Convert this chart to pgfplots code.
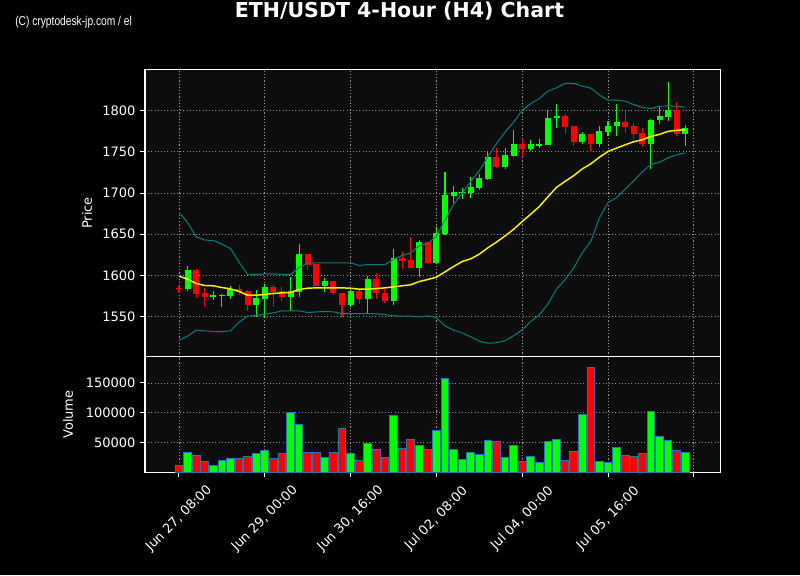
\documentclass[border=0pt]{standalone}
\usepackage{pgfplots}
\pgfplotsset{compat=1.18}
\usepackage{pgfplotstable}
\usepackage{fontspec}
\setmainfont{DejaVu Sans}
\newfontfamily\wmfont[FakeStretch=0.8]{Liberation Sans}

\definecolor{bullg}{RGB}{0,255,0}
\definecolor{bearr}{RGB}{255,0,0}
\definecolor{panel}{RGB}{13,13,13}
\definecolor{band}{RGB}{0,128,128}
\definecolor{gridc}{RGB}{150,150,150}
\definecolor{edge}{RGB}{31,119,180}

% 4h candles, i=0 is Jun 27 08:00; g=1 up candle, g=0 down candle
\pgfplotstableread{
i o h l c v g
0 1585 1587 1579 1584 11700 0
1 1583.4 1611.3 1581.4 1606.5 33300 1
2 1606.5 1608 1573.3 1577.8 28300 0
3 1578.6 1585 1562.4 1574.1 18300 0
4 1573.7 1580.6 1569.7 1576.1 11700 1
5 1575.5 1577 1562 1576.5 20000 1
6 1575.3 1586.7 1571.7 1584.2 23300 1
7 1583.4 1589 1576 1579.4 23300 0
8 1581 1582 1556.7 1564 26700 0
9 1564 1583 1549.4 1572.5 31700 1
10 1571.3 1590 1549 1585.8 36700 1
11 1585.8 1589 1562 1579.8 23300 0
12 1581 1586.2 1569.3 1573.7 31700 0
13 1573.7 1597.6 1557.1 1581 100000 1
14 1580.2 1637.6 1574.1 1625.9 80000 1
15 1625.9 1626.5 1606.5 1612.5 33300 0
16 1613.8 1614.2 1587 1587.5 33300 0
17 1587.5 1596.4 1579.4 1593.1 25000 1
18 1593.1 1593.5 1576.1 1578.2 33300 0
19 1578.6 1579.2 1549.8 1564 73300 0
20 1564 1582 1562 1581 31700 1
21 1581 1582 1566 1571.3 20000 0
22 1571.3 1599.2 1553.1 1595.6 48300 1
23 1595.6 1603.2 1571.3 1578.2 38300 0
24 1578.6 1583.8 1566.8 1569.3 25000 0
25 1569.3 1631.6 1564.8 1621 95000 1
26 1621 1628.7 1607.3 1617.4 40000 0
27 1618.6 1646.1 1608.5 1608.9 55000 0
28 1608.9 1642.9 1597.6 1640.5 45000 1
29 1640.5 1641 1614 1615 38300 0
30 1615 1659 1614 1651.4 70000 1
31 1649.8 1725 1649 1697.5 158300 1
32 1696.7 1708 1687.4 1701.1 38300 1
33 1699.5 1706.4 1692.2 1701.1 21700 1
34 1700.3 1718.9 1694.2 1707.2 33300 1
35 1706.4 1722.5 1703.2 1718.1 30000 1
36 1717.3 1750 1715.7 1743.6 53300 1
37 1743.6 1754.1 1729.9 1731.9 51700 0
38 1731.9 1754.1 1728.6 1746 25000 1
39 1745.2 1776 1744 1759.4 45000 1
40 1758.9 1765 1743.5 1753.3 18300 0
41 1753.3 1764.6 1750.8 1758.9 26700 1
42 1757.3 1765.9 1754.9 1758.9 16700 1
43 1758.1 1800.4 1758 1791.5 51700 1
44 1790.7 1808.5 1779.3 1793.1 55000 1
45 1793.1 1796.3 1772 1780.1 20000 0
46 1780.9 1781.2 1757.3 1762.2 35000 0
47 1762.2 1773.6 1759.8 1771.1 96700 1
48 1771.1 1771.5 1749.2 1759.3 176700 0
49 1759.3 1781.7 1756.1 1774.8 18300 1
50 1774 1787 1769.5 1781.7 16700 1
51 1781.3 1808.5 1769.5 1785.8 41700 1
52 1785.8 1800 1772.8 1780.1 28300 0
53 1780.9 1785.4 1765 1772 26700 0
54 1772.4 1778.9 1755.7 1759.8 31700 0
55 1759.3 1789.5 1729.3 1789 101700 1
56 1788.2 1804.5 1783.3 1793.1 60000 1
57 1792.3 1834.1 1787.8 1800.4 53300 1
58 1800.4 1810.6 1769.1 1772 36700 0
59 1771.5 1782.9 1757.3 1778.5 33300 1
}\candles

% bollinger bands and 20-period moving average
\pgfplotstableread{
i up ma lo
0 1676.5 1599.2 1521.5
1 1664.3 1595.6 1526.4
2 1646.9 1590.3 1533.7
3 1642.9 1587.9 1532.9
4 1642.5 1587.5 1532
5 1638 1585.4 1532
6 1632.8 1583.8 1532.9
7 1616.2 1580.6 1543.4
8 1601.2 1576.1 1550.7
9 1601.2 1576.1 1551.5
10 1602 1577 1553.1
11 1602 1578.2 1554.7
12 1601.2 1579 1557.1
13 1601.2 1579.4 1557.1
14 1609.7 1583 1557.1
15 1614.6 1584.6 1555.1
16 1615.4 1585 1555.9
17 1615.4 1585 1556.3
18 1615.4 1585 1555.9
19 1615.4 1585 1553.9
20 1615.4 1584.6 1553.9
21 1612.1 1583.4 1553.9
22 1613.3 1583.4 1553.9
23 1613.3 1584.2 1553.5
24 1613.3 1585 1552.7
25 1619.4 1586.2 1551.1
26 1624.3 1587.5 1550.7
27 1627.1 1588.7 1550.7
28 1636.4 1592.7 1549.8
29 1638.8 1595.1 1551.1
30 1647.7 1598 1549
31 1667 1604.4 1538.9
32 1686 1610.9 1533.7
33 1700 1617 1530.4
34 1714 1620.2 1525.6
35 1727 1625.9 1520.3
36 1744 1633.6 1517.9
37 1760 1640.5 1518.5
38 1774 1648 1521
39 1786 1656 1527
40 1800.4 1665.5 1534.2
41 1808.5 1674.4 1544.3
42 1814.6 1683.7 1552.4
43 1823.6 1695.5 1565.5
44 1827.6 1706.9 1583.7
45 1832.9 1714.2 1595
46 1832.9 1721.1 1609.2
47 1829.7 1729.3 1627.5
48 1827.2 1735.4 1641.6
49 1818.7 1743.5 1670.1
50 1812.6 1750.4 1688.4
51 1812.6 1754.5 1694.5
52 1811.4 1758.5 1704.7
53 1807.3 1762.2 1714.8
54 1803.7 1764.6 1725.8
55 1802.4 1768.7 1734.6
56 1805.3 1771.1 1737.4
57 1805.7 1774.8 1742.7
58 1805.3 1776 1746.3
59 1804.1 1776.8 1748.8
}\bands

\pgfplotsset{chart/.style={
  scale only axis, width=431.25pt, xmin=-3.96, xmax=63.05,
  axis background/.style={fill=panel},
  axis line style={white, line width=0.75pt},
  tick style={white, line width=0.75pt}, major tick length=3.6pt,
  tick align=outside, tick pos=left,
  grid=major, major grid style={gridc, line width=0.6pt, dash pattern=on 0.8pt off 1.6pt},
  xtick={0,10,...,60},
  ticklabel style={font=\fontsize{9.75}{11}\selectfont, text=white},
  /pgf/number format/assume math mode=true,
  /pgf/number format/fixed,
  /pgf/number format/1000 sep={},
  scaled y ticks=false,
  yticklabel style={/pgf/number format/fixed, /pgf/number format/precision=0},
  label style={font=\fontsize{9.75}{11}\selectfont, text=white},
}}
% candle pieces: wick or body drawn as an upward error bar
\pgfplotsset{candle/.style n args={2}{draw=none, mark=none, forget plot,
  error bars/.cd, y dir=plus, y explicit, error mark=none,
  error bar style={draw=#1, solid, line width=#2}}}

\begin{document}
\begin{tikzpicture}
\useasboundingbox (0,0) rectangle (600pt,431.25pt);
\fill[black] (0,0) rectangle (600pt,431.25pt);

\node[font=\bfseries\fontsize{15.4}{18}\selectfont, text=white] at (299.6pt,423pt) {ETH/USDT 4-Hour (H4) Chart};
\node[font=\wmfont\fontsize{9.6}{11}\selectfont, text=white, anchor=west, inner sep=0pt] at (11.25pt,414.5pt) {(C) cryptodesk-jp.com / el};

% price panel
\begin{axis}[chart, at={(108.75pt,163.7pt)}, anchor=south west, height=215.55pt,
  ymin=1501.5, ymax=1850, ytick={1550,1600,...,1800},
  xticklabels={}, x tick style={draw=none},
  ylabel={Price}, ylabel style={at={(axis description cs:-0.1009,0.5)}, anchor=center}]
% wicks
\addplot[restrict expr to domain={\thisrow{g}}{0.5:1.5}, candle={bullg}{0.8pt}]
  table[x=i, y=l, y error plus expr=\thisrow{h}-\thisrow{l}]{\candles};
\addplot[restrict expr to domain={\thisrow{g}}{-0.5:0.5}, candle={bearr}{0.8pt}]
  table[x=i, y=l, y error plus expr=\thisrow{h}-\thisrow{l}]{\candles};
% bodies
\addplot[restrict expr to domain={\thisrow{g}}{0.5:1.5}, candle={bullg}{4.5pt}]
  table[x=i, y expr={min(\thisrow{o},\thisrow{c})}, y error plus expr={max(abs(\thisrow{c}-\thisrow{o}),0.7)}]{\candles};
\addplot[restrict expr to domain={\thisrow{g}}{-0.5:0.5}, candle={bearr}{4.5pt}]
  table[x=i, y expr={min(\thisrow{o},\thisrow{c})}, y error plus expr={max(abs(\thisrow{c}-\thisrow{o}),0.7)}]{\candles};
% bands + MA
\addplot[band, line width=0.75pt, no markers] table[x=i, y=up]{\bands};
\addplot[band, line width=0.75pt, no markers] table[x=i, y=lo]{\bands};
\addplot[yellow, line width=1.1pt, no markers] table[x=i, y=ma]{\bands};
\end{axis}

% volume panel
\begin{axis}[chart, at={(108.75pt,77pt)}, anchor=south west, height=86.7pt,
  ymin=0, ymax=194000, ytick={50000,100000,150000},
  ybar, bar width=0.9, bar shift=0pt,
  xticklabels={{Jun 27, 08:00},{Jun 29, 00:00},{Jun 30, 16:00},{Jul 02, 08:00},{Jul 04, 00:00},{Jul 05, 16:00},{}},
  xticklabel style={rotate=45, anchor=center}, xticklabel shift=31pt,
  ylabel={Volume}, ylabel style={at={(axis description cs:-0.1339,0.5)}, anchor=center}]
\addplot[fill=bullg, draw=edge, line width=0.75pt, restrict expr to domain={\thisrow{g}}{0.5:1.5}]
  table[x=i, y=v]{\candles};
\addplot[fill=bearr, draw=edge, line width=0.75pt, restrict expr to domain={\thisrow{g}}{-0.5:0.5}]
  table[x=i, y=v]{\candles};
\end{axis}
\end{tikzpicture}
\end{document}
